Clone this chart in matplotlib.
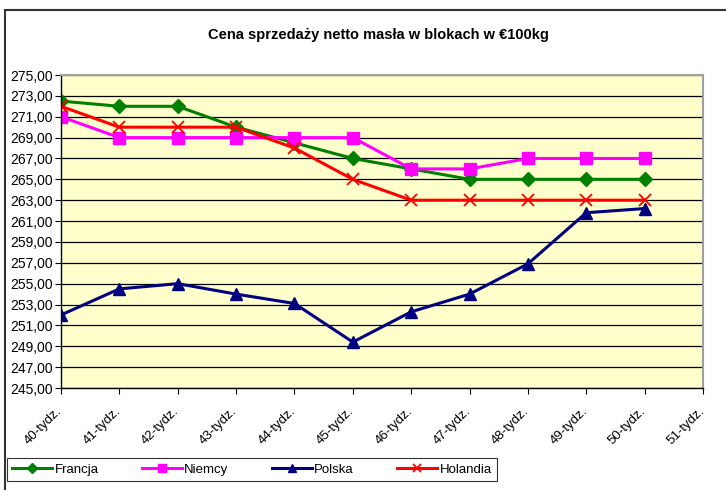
import numpy as np
import matplotlib.pyplot as plt
import matplotlib.transforms as mtransforms
from matplotlib.patches import Rectangle
from matplotlib.ticker import FuncFormatter

plt.rcParams['font.family'] = ['Liberation Sans', 'DejaVu Sans']

weeks = ['40-tydz.', '41-tydz.', '42-tydz.', '43-tydz.', '44-tydz.', '45-tydz.',
         '46-tydz.', '47-tydz.', '48-tydz.', '49-tydz.', '50-tydz.', '51-tydz.']
francja = [272.5, 272.0, 272.0, 270.0, 268.5, 267.0, 266.0, 265.0, 265.0, 265.0, 265.0]
niemcy = [271.0, 269.0, 269.0, 269.0, 269.0, 269.0, 266.0, 266.0, 267.0, 267.0, 267.0]
polska = [252.0, 254.5, 255.0, 254.0, 253.1, 249.4, 252.3, 254.0, 256.9, 261.8, 262.2]
holandia = [272.0, 270.0, 270.0, 270.0, 268.0, 265.0, 263.0, 263.0, 263.0, 263.0, 263.0]

fig = plt.figure(figsize=(7.26, 4.9), dpi=100)
ax = fig.add_axes([61/726, 1-388/490, (703-61)/726, (388-75)/490])
ax.set_facecolor('#FFFFCC')

x = np.arange(len(francja))
ax.plot(x, francja, color='#008000', lw=2.2, marker='D', ms=7, label='Francja')
ax.plot(x, niemcy, color='#FF00FF', lw=2.2, marker='s', ms=8, label='Niemcy')
ax.plot(x, polska, color='#000080', lw=2.2, marker='^', ms=9, label='Polska')
ax.plot(x, holandia, color='#FF0000', lw=2.2, marker='x', ms=9, mew=1.3, label='Holandia')

ax.set_xlim(0, len(weeks) - 1)
ax.set_ylim(245, 275)
ax.set_yticks(np.arange(245, 276, 2))
ax.yaxis.set_major_formatter(FuncFormatter(lambda v, p: ('%.2f' % v).replace('.', ',')))
ax.set_xticks(np.arange(len(weeks)))
ax.set_xticklabels(weeks, rotation=45, ha='right', va='top', rotation_mode='anchor', fontsize=9.5)
ax.tick_params(axis='y', labelsize=10, length=4, direction='out', pad=2)
ax.tick_params(axis='x', length=4, direction='out', pad=8)
# labels sit a bit left of their ticks
shift = mtransforms.ScaledTranslation(-5/100, 0, fig.dpi_scale_trans)
for lab in ax.get_xticklabels():
    lab.set_transform(lab.get_transform() + shift)
ax.grid(axis='y', color='black', lw=0.9)
ax.set_axisbelow(True)
for s in ['top', 'right']:
    ax.spines[s].set_color('#A0A0A0')
    ax.spines[s].set_linewidth(1.5)
ax.spines['left'].set_linewidth(1.0)
ax.spines['bottom'].set_linewidth(1.0)

fig.text(378/726, 1-35/490, 'Cena sprzedaży netto masła w blokach w €100kg',
         ha='center', va='center', fontsize=10.5, fontweight='bold')

leg = fig.legend(loc='lower left', bbox_to_anchor=(7/726, 1-481/490, 490/726, 26/490),
                 ncol=4, mode='expand', frameon=True, fancybox=False, fontsize=9.5,
                 handlelength=3, borderaxespad=0, markerscale=0.7, handletextpad=0.2)
leg.get_frame().set_edgecolor('black')
leg.get_frame().set_linewidth(0.8)

fig.patches.append(Rectangle((5/726, -0.1), 1.2, 1.1 - 10/490, transform=fig.transFigure,
                             fill=False, edgecolor='#333333', lw=1.5))

fig.savefig('out.png', dpi=100)
